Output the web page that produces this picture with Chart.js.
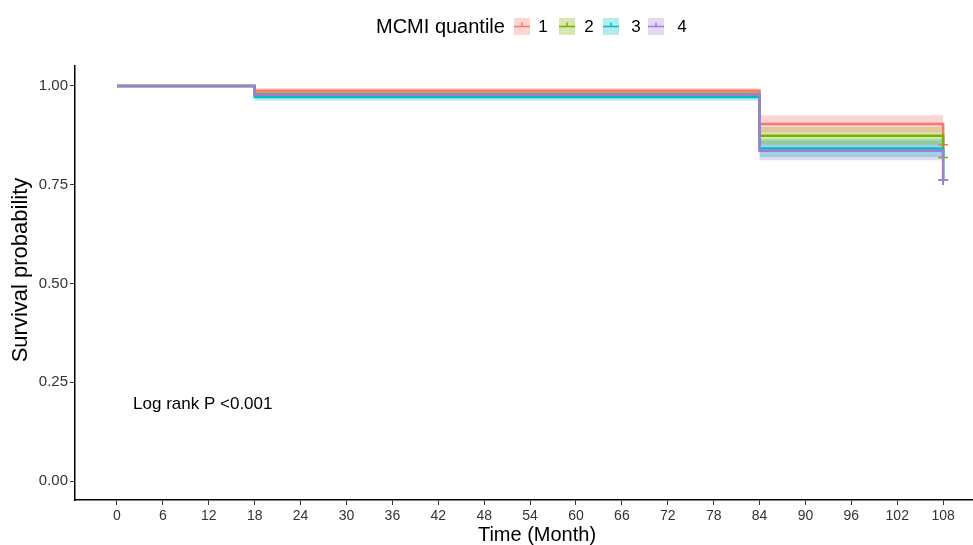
<!DOCTYPE html>
<html><head><meta charset="utf-8">
<script src="https://cdn.jsdelivr.net/npm/chart.js@4/dist/chart.umd.min.js"></script>
<style>html,body{margin:0;padding:0;background:#fff}#wrap{width:973px;height:545px;position:relative}</style>
</head><body><div id="wrap"><canvas id="c" width="973" height="545"></canvas></div>
<script>
// ---- data ----
const groups = ["1", "2", "3", "4"];
const times = [0, 18, 84, 108, 108];
const surv1 = [1, 0.988, 0.904, 0.904, 0.851];
const surv2 = [1, 0.980, 0.874, 0.874, 0.819];
const surv3 = [1, 0.972, 0.842, 0.842, 0.762];
const surv4 = [1, 0.978, 0.836, 0.836, 0.762];
const upper1 = [1, 0.994, 0.926, 0.926];
const lower1 = [1, 0.982, 0.882, 0.882];
const upper2 = [1, 0.987, 0.896, 0.896];
const lower2 = [1, 0.973, 0.852, 0.852];
const upper3 = [1, 0.980, 0.866, 0.866];
const lower3 = [1, 0.963, 0.820, 0.820];
const upper4 = [1, 0.985, 0.861, 0.861];
const lower4 = [1, 0.970, 0.812, 0.812];
const xTicks = [0, 6, 12, 18, 24, 30, 36, 42, 48, 54, 60, 66, 72, 78, 84, 90, 96, 102, 108];
const yTicks = [0, 0.25, 0.5, 0.75, 1];
const legendTitle = "MCMI quantile";
const xTitle = "Time (Month)";
const yTitle = "Survival probability";
const pText = "Log rank P <0.001";

const colors = ["#F8766D", "#7CAE00", "#00BFC4", "#A47CD2"];
const fills = ["rgba(248,118,109,0.3)", "rgba(124,174,0,0.3)", "rgba(0,191,196,0.3)", "rgba(164,124,210,0.3)"];
const survs = [surv1, surv2, surv3, surv4];
const uppers = [upper1, upper2, upper3, upper4];
const lowers = [lower1, lower2, lower3, lower4];
const pts = arr => arr.map((v, i) => ({x: times[i], y: v}));

const datasets = [];
// confidence bands
groups.forEach((g, i) => {
  datasets.push({label: 'u' + g, data: pts(uppers[i]), stepped: 'before', borderWidth: 0, borderColor: 'transparent', pointRadius: 0, fill: false, order: 10});
  datasets.push({label: 'l' + g, data: pts(lowers[i]), stepped: 'before', borderWidth: 0, borderColor: 'transparent', pointRadius: 0, backgroundColor: fills[i], fill: '-1', order: 10});
});
// survival curves
groups.forEach((g, i) => {
  const n = survs[i].length;
  datasets.push({label: g, data: pts(survs[i]), stepped: 'before', borderColor: colors[i], borderWidth: 2.5, fill: false,
    pointStyle: 'cross', pointRadius: survs[i].map((v, k) => k === n - 1 ? 5 : 0), pointBorderColor: colors[i], pointBorderWidth: 1.5, order: 4 - i});
});

const font = "'Liberation Sans', Arial, sans-serif";

const deco = {
  id: 'deco',
  afterDraw(chart) {
    const ctx = chart.ctx;
    const xs = chart.scales.x, ys = chart.scales.y;
    ctx.save();
    ctx.fillStyle = '#000';
    ctx.font = '17px ' + font;
    ctx.textAlign = 'left'; ctx.textBaseline = 'middle';
    ctx.fillText(pText, xs.getPixelForValue(2.1), ys.getPixelForValue(0.195));
    ctx.font = '20px ' + font;
    ctx.textAlign = 'center'; ctx.textBaseline = 'middle';
    ctx.fillText(xTitle, 537, 535);
    ctx.save();
    ctx.translate(21, 270); ctx.rotate(-Math.PI / 2);
    ctx.font = '22px ' + font;
    ctx.fillText(yTitle, 0, 0);
    ctx.restore();
    // legend
    ctx.font = '20px ' + font;
    ctx.textAlign = 'left';
    ctx.fillText(legendTitle, 376, 27);
    const boxX = [514, 559, 603, 648];
    const labX = [543, 589, 636, 682];
    groups.forEach((g, i) => {
      const bx = boxX[i], by = 18, bw = 16, bh = 17;
      ctx.fillStyle = fills[i];
      ctx.fillRect(bx, by, bw, bh);
      ctx.strokeStyle = colors[i]; ctx.lineWidth = 1.5;
      ctx.beginPath();
      ctx.moveTo(bx, by + bh / 2); ctx.lineTo(bx + bw, by + bh / 2);
      ctx.moveTo(bx + bw / 2, by + bh / 2 - 4); ctx.lineTo(bx + bw / 2, by + bh / 2);
      ctx.stroke();
      ctx.fillStyle = '#000';
      ctx.font = '17px ' + font;
      ctx.textAlign = 'center';
      ctx.fillText(g, labX[i], 27);
    });
    ctx.restore();
  }
};

new Chart(document.getElementById('c'), {
  type: 'line',
  data: {datasets},
  options: {
    responsive: false, animation: false,
    layout: {autoPadding: false, padding: {top: 66, right: 0, left: 0, bottom: 0}},
    plugins: {legend: {display: false}, tooltip: {enabled: false}, filler: {propagate: false}},
    scales: {
      x: {type: 'linear', min: -5.49, max: 111.9,
        afterBuildTicks: s => { s.ticks = xTicks.map(v => ({value: v})); },
        afterFit: s => { s.height = 45; s.paddingLeft = 0; s.paddingRight = 0; },
        ticks: {autoSkip: false, maxRotation: 0, color: '#333', font: {family: font, size: 14}, padding: 3, callback: v => String(v)},
        grid: {drawOnChartArea: false, drawTicks: true, tickLength: 5, color: '#333', tickWidth: 1},
        border: {display: true, color: '#000', width: 1.5}},
      y: {type: 'linear', min: -0.048, max: 1.0506,
        afterBuildTicks: s => { s.ticks = yTicks.map(v => ({value: v})); },
        afterFit: s => { s.width = 75; s.paddingTop = 0; s.paddingBottom = 0; },
        ticks: {color: '#333', font: {family: font, size: 15}, padding: 2, callback: v => Number(v).toFixed(2)},
        grid: {drawOnChartArea: false, drawTicks: true, tickLength: 5, color: '#333', tickWidth: 1},
        border: {display: true, color: '#000', width: 1.5}}
    }
  },
  plugins: [deco]
});
</script></body></html>
